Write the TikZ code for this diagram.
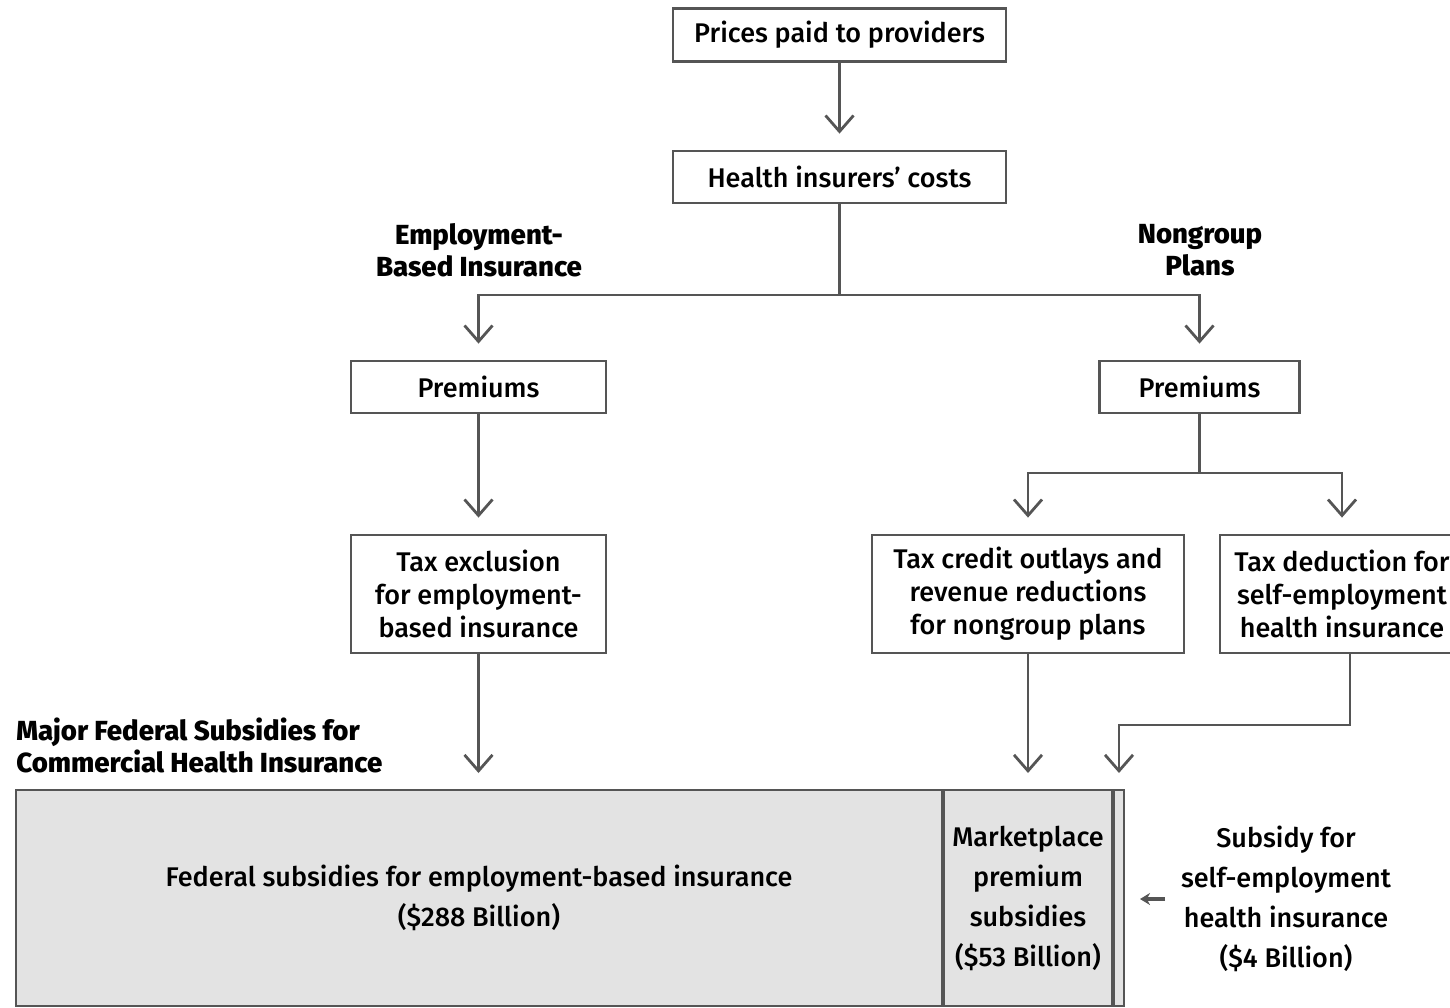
\documentclass[tikz,border=0pt]{standalone}
\usepackage{fontspec}
\setmainfont{Fira Sans}[UprightFont=* Medium, BoldFont=* ExtraBold]
\usetikzlibrary{arrows.meta,calc}
\definecolor{lncol}{HTML}{555555}
\definecolor{barfill}{HTML}{E3E3E3}
\begin{document}
\begin{tikzpicture}[x=0.5pt,y=-0.5pt,
  box/.style={draw=lncol, line width=1.4pt, align=center, inner sep=2pt,
    font=\fontsize{13.5}{16.5}\selectfont},
  head/.style={align=center, inner sep=0pt, font=\fontsize{13.8}{16}\selectfont\bfseries},
  bar/.style={draw=lncol, line width=1pt, fill=barfill, align=center, inner sep=0pt,
    minimum height=108pt, anchor=north west, font=\fontsize{13.5}{20}\selectfont},
  arr/.style={draw=lncol, line width=1.4pt, -{Straight Barb[length=8pt,width=14pt]}, shorten >=8pt},
  sarr/.style={draw=lncol, line width=1.6pt, -{Stealth[length=5pt,width=6pt]}}]
\clip (0,0) rectangle (1450,1007);
% boxes
\node[box, minimum width=166.5pt, minimum height=26.5pt] (prices) at (839.5,35) {Prices paid to providers};
\node[box, minimum width=166.5pt, minimum height=26pt] (costs) at (839.5,177) {Health insurers’ costs};
\node[head] (ebihead) at (479,250) {Employment-\\Based Insurance};
\node[head] (nghead) at (1200,250) {Nongroup\\Plans};
\node[box, minimum width=127.5pt, minimum height=26pt] (premL) at (478.5,387) {Premiums};
\node[box, minimum width=100pt, minimum height=26pt] (premR) at (1199.5,387) {Premiums};
\node[box, minimum width=127.5pt, minimum height=59pt] (texcl) at (478.5,594) {Tax exclusion\\for employment-\\based insurance};
\node[box, minimum width=156pt, minimum height=59pt] (tcred) at (1028,594) {Tax credit outlays and\\revenue reductions\\for nongroup plans};
\node[box, minimum width=122pt, minimum height=59pt] (tded) at (1342,594) {Tax deduction for\\self-employment\\health insurance};
\node[head, anchor=west, align=left] (major) at (16,745) {Major Federal Subsidies for\\Commercial Health Insurance};
% bottom bar
\node[bar, minimum width=463pt] (ebi) at (15,789) {Federal subsidies for employment-based insurance\\(\$288 Billion)};
\node[bar, minimum width=84pt] (mkt) at (ebi.north east) {Marketplace\\premium\\subsidies\\(\$53 Billion)};
\node[bar, minimum width=5pt] (self) at (mkt.north east) {};
\node[align=center, inner sep=0pt, font=\fontsize{13.5}{20}\selectfont] (sub) at (1286,899) {Subsidy for\\self-employment\\health insurance\\(\$4 Billion)};
% connectors
\coordinate (j1) at (839.5,295);
\coordinate (j2) at (1199.5,473);
\coordinate (j3) at (1350,725);
\draw[arr] (prices) -- (costs);
\draw[arr] (costs) -- (j1) -| (premL);
\draw[arr] (j1) -| (premR);
\draw[arr] (premL) -- (texcl);
\draw[arr] (premR) -- (j2) -| (tcred);
\draw[arr] (j2) -| (tded);
\draw[arr] (texcl) -- (texcl |- ebi.north);
\draw[arr] (tcred) -- (tcred |- mkt.north);
\draw[arr] (j3 |- tded.south) -- (j3) -| (self.north);
\draw[sarr, shorten >=7.5pt] (sub.west -| 1165,0) -- (sub.west -| self.east);
\end{tikzpicture}
\end{document}
